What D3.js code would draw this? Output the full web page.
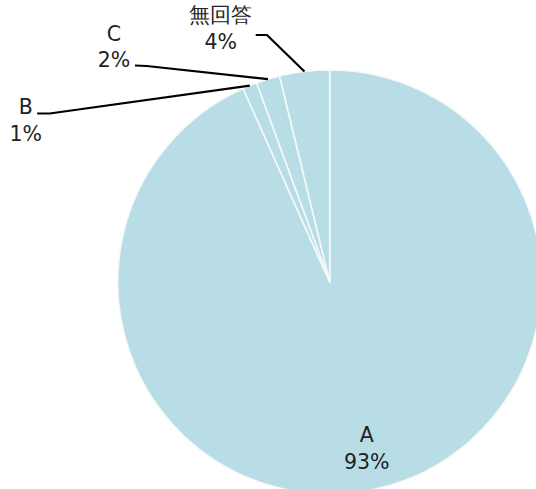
<!DOCTYPE html>
<html><head><meta charset="utf-8">
<script src="https://cdn.jsdelivr.net/npm/d3@7"></script>
<style>html,body{margin:0;padding:0;background:#fff;}svg{display:block;}</style>
</head><body>
<svg id="chart" width="536" height="489"></svg>
<script>
const categories = ["A", "B", "C", "無回答"];
const values = [93.3, 1.1, 1.8, 3.8];
const valueLabels = ["93%", "1%", "2%", "4%"];
const colors = ["#b8dde7", "#b8dde7", "#b8dde7", "#b8dde7"];

const W = 536, H = 489;
const cx = 329.7, cy = 282, R = 212;
const svg = d3.select("#chart");
const g = svg.append("g").attr("transform", `translate(${cx},${cy})`);

const data = categories.map((c, i) => ({cat: c, value: values[i], label: valueLabels[i], color: colors[i]}));
const pie = d3.pie().value(d => d.value).sort(null);
const arcs = pie(data);
const arc = d3.arc().innerRadius(0).outerRadius(R);
const edgeArc = d3.arc().innerRadius(R).outerRadius(R);

g.selectAll("path.slice").data(arcs).join("path")
  .attr("class", "slice")
  .attr("d", arc)
  .attr("fill", d => d.data.color)
  .attr("stroke", "#f7f9f9")
  .attr("stroke-width", 1.6)
  .attr("stroke-linejoin", "round");

// label layout (positions relative to chart centre)
const layout = {
  "A":   {lx: 37, ly: 160, inside: true},
  "B":   {lx: -304, ly: -168, elbow: [-280, -168.5], end: [-292.5, -168.5]},
  "C":   {lx: -215.7, ly: -241.5, elbow: [-183, -216], end: [-194.7, -216.5]},
  "無回答": {lx: -109, ly: -260, elbow: [-62.7, -247], end: [-74, -247]}
};

const font = "'DejaVu Sans', sans-serif";
arcs.forEach(a => {
  const L = layout[a.data.cat];
  if (!L.inside) {
    const p = edgeArc.centroid(a);
    g.append("polyline")
      .attr("points", [p, L.elbow, L.end].map(q => q.join(",")).join(" "))
      .attr("fill", "none").attr("stroke", "#000").attr("stroke-width", 2.2);
  }
  const t = g.append("text")
    .attr("x", L.lx).attr("y", L.ly)
    .attr("text-anchor", "middle")
    .attr("font-family", font)
    .attr("font-size", 20.5)
    .attr("fill", "#222");
  t.append("tspan").attr("x", L.lx).attr("dy", 0).text(a.data.cat);
  t.append("tspan").attr("x", L.lx).attr("dy", 26.5).text(a.data.label);
});
</script>
</body></html>
